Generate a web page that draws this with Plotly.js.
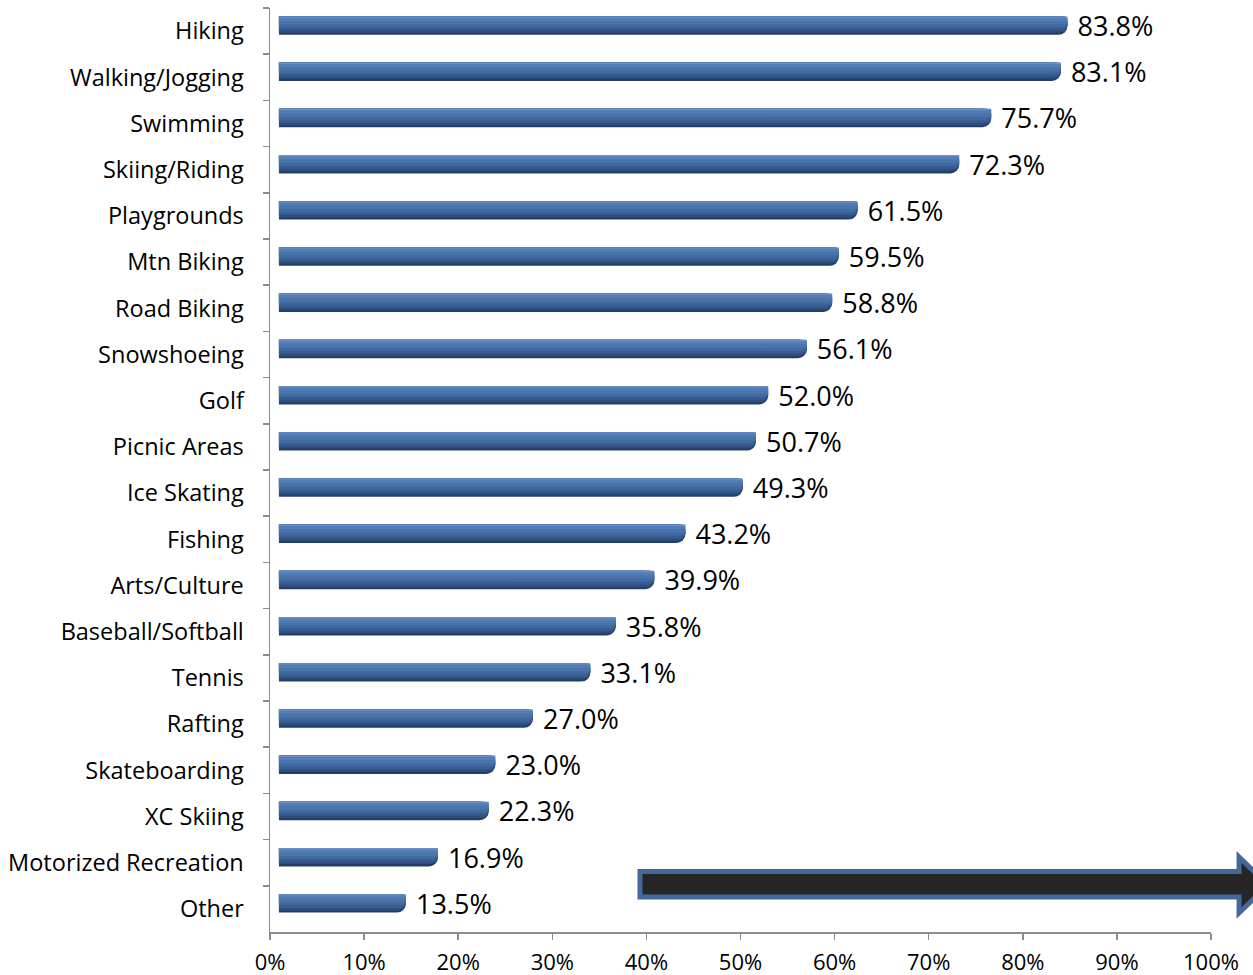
<!DOCTYPE html>
<html>
<head>
<meta charset="utf-8">
<script src="https://cdn.plot.ly/plotly-3.0.1.min.js"></script>
<style>html,body{margin:0;padding:0;background:#fff;}#chart{width:1253px;height:975px;}</style>
</head>
<body>
<div id="chart"></div>
<script>
// Data (top to bottom as shown)
const categories = ["Hiking","Walking/Jogging","Swimming","Skiing/Riding","Playgrounds","Mtn Biking","Road Biking","Snowshoeing","Golf","Picnic Areas","Ice Skating","Fishing","Arts/Culture","Baseball/Softball","Tennis","Rafting","Skateboarding","XC Skiing","Motorized Recreation","Other"];
const values = [83.8,83.1,75.7,72.3,61.5,59.5,58.8,56.1,52.0,50.7,49.3,43.2,39.9,35.8,33.1,27.0,23.0,22.3,16.9,13.5];
const xTickVals = [0,10,20,30,40,50,60,70,80,90,100];
const xTickText = ["0%","10%","20%","30%","40%","50%","60%","70%","80%","90%","100%"];

const FONT = "Open Sans, Liberation Sans, sans-serif";

function layer(color, offset, width, withText) {
  const t = {
    type: "bar", orientation: "h",
    x: values, y: categories,
    xaxis: "x2", yaxis: "y",
    offset: offset, width: width,
    marker: {color: color, cornerradius: "50%", line: {width: 0}},
    hoverinfo: "skip",
    showlegend: false,
    cliponaxis: false
  };
  if (withText) {
    t.text = values.map(v => "\u00a0" + v.toFixed(1) + "%");
    t.texttemplate = "%{text}";
    t.textposition = "outside";
    t.constraintext = "none";
    t.textfont = {family: FONT, size: 27, color: "#000"};
  } else {
    t.textposition = "none";
  }
  return t;
}

// invisible trace on the main axes so the visible x axis is drawn
const axisTrace = {
  type: "scatter", mode: "markers", x: values, y: categories,
  xaxis: "x", yaxis: "y", marker: {opacity: 0, size: 1},
  hoverinfo: "skip", showlegend: false
};

const traces = [
  axisTrace,
  layer("#243F67", -0.32, 0.40, true),
  layer("#2E4F7F", -0.32, 0.35, false),
  layer("#385C92", -0.32, 0.30, false),
  layer("#416AA1", -0.32, 0.24, false),
  layer("#4A74AC", -0.317, 0.17, false),
  layer("#537DB4", -0.313, 0.09, false),
  layer("#6990C5", -0.318, 0.03, false)
];

const axisColor = "#8c8c8c";
const layout = {
  width: 1253, height: 975,
  margin: {l: 270, r: 42, t: 8, b: 43},
  paper_bgcolor: "#fff", plot_bgcolor: "#fff",
  barmode: "overlay",
  showlegend: false,
  xaxis: {
    range: [0, 100], tickvals: xTickVals, ticktext: xTickText,
    showgrid: false, zeroline: false, showline: true, linecolor: axisColor, linewidth: 1.5,
    ticks: "outside", ticklen: 6, tickcolor: axisColor, tickwidth: 1.5,
    ticklabelstandoff: 4,
    tickfont: {family: FONT, size: 22, color: "#000"}
  },
  xaxis2: {
    overlaying: "x", range: [-0.95, 99.05], visible: false, showgrid: false, zeroline: false
  },
  yaxis: {
    type: "category", categoryorder: "array", categoryarray: categories,
    range: [categories.length - 0.5, -0.5], autorange: false,
    showgrid: false, zeroline: false, showline: true, linecolor: axisColor, linewidth: 1.5,
    ticks: "outside", ticklen: 6, tickcolor: axisColor, tickwidth: 1.5, tickson: "boundaries",
    ticklabelstandoff: 20,
    tickfont: {family: FONT, size: 23.5, color: "#000"}
  },
  shapes: [{
    type: "path", xref: "paper", yref: "paper",
    path: "M 0.3932,0.0655 L 1.0298,0.0655 L 1.0298,0.0812 L 1.0606,0.0509 L 1.0298,0.0206 L 1.0298,0.0379 L 0.3932,0.0379 Z",
    fillcolor: "#262626", line: {color: "#44689A", width: 5}, layer: "above"
  }]
};

Plotly.newPlot("chart", traces, layout, {displayModeBar: false, staticPlot: true});
</script>
</body>
</html>
